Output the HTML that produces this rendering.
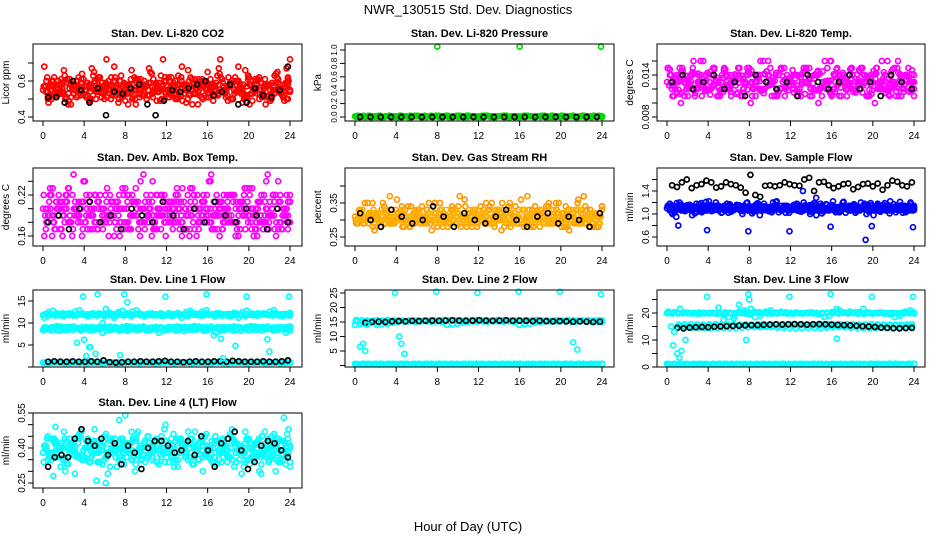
<!DOCTYPE html>
<html><head><meta charset="utf-8">
<style>
html,body{margin:0;padding:0;background:#fff;}
svg{display:block;font-family:"Liberation Sans",Arial,sans-serif;}
</style></head>
<body>
<svg id="chart" width="936" height="540" viewBox="0 0 936 540" xmlns="http://www.w3.org/2000/svg">
<rect x="0" y="0" width="936" height="540" fill="#fff"/>
<text x="468" y="14" font-size="13" text-anchor="middle">NWR_130515  Std. Dev. Diagnostics</text>
<text x="468" y="531" font-size="13" text-anchor="middle">Hour of Day (UTC)</text>
</svg>
<script>
// ---- data ----
const co2Red = [0.55,0.62,0.50,0.58,0.53,0.66,0.47,0.56,0.60,0.52,0.57,0.49,0.63,0.54,0.51,0.59,0.55,0.68,0.48,0.57,0.53,0.61,0.50,0.56,0.58,0.52,0.64,0.55,0.49,0.60,0.54,0.57,0.51,0.62,0.56,0.53,0.59,0.47,0.58,0.55,0.61,0.52,0.67,0.54,0.57,0.50,0.60,0.56,0.53,0.63,0.49,0.58,0.55,0.61,0.52,0.57,0.65,0.54,0.59,0.72];
const co2Red2 = [0.57,0.52,0.60,0.54,0.58,0.50,0.61,0.53,0.56,0.59,0.51,0.58,0.55,0.62,0.53,0.57,0.50,0.60,0.55,0.52,0.58,0.54,0.61,0.51,0.57,0.55,0.53,0.59,0.56,0.50,0.62,0.54,0.58,0.52,0.57,0.60,0.53,0.56,0.51,0.59,0.55,0.58,0.52,0.61,0.54,0.57,0.53,0.60,0.56,0.51,0.58,0.55,0.62,0.53,0.57,0.50,0.59,0.56,0.54,0.58];
const co2Black = [0.51,0.51,0.48,0.60,0.55,0.48,0.56,0.41,0.54,0.53,0.56,0.58,0.47,0.41,0.49,0.55,0.54,0.56,0.58,0.60,0.52,0.54,0.58,0.47,0.48,0.56,0.52,0.51,0.55,0.68];
const presGreen = [0.01,0.00,0.02,0.01,0.00,0.01,0.02,0.00,0.01,0.01,0.00,0.02,0.01,0.00,0.01,0.02,0.01,0.00,0.01,0.01,0.02,0.00,0.01,0.00,0.01,0.02,0.01,0.00,0.01,0.01,0.00,0.02,0.01,0.00,0.01,0.01,0.02,0.00,0.01,0.00,0.01,0.02,0.01,0.00,0.01,0.01,0.00,0.02,0.01,0.00,0.01,0.01,0.02,0.00,0.01,0.00,0.01,0.02,0.01,0.01];
const presBlack = [0.00,0.00,0.00,0.00,0.00,0.00,0.00,0.00,0.00,0.00,0.00,0.00,0.00,0.00,0.00,0.00,0.00,0.00,0.00,0.00,0.00,0.00,0.00,0.00];
const presOutHours = [8.0,16.0,23.9];
const presOutVals = [1.05,1.05,1.05];
const tempMag = [0.013,0.014,0.012,0.015,0.013,0.011,0.014,0.012,0.016,0.013,0.012,0.015,0.011,0.013,0.014,0.012,0.013,0.015,0.011,0.014,0.010,0.013,0.012,0.016,0.013,0.011,0.014,0.012,0.015,0.013,0.012,0.014,0.011,0.013,0.015,0.012,0.014,0.011,0.013,0.016,0.012,0.014,0.013,0.011,0.015,0.012,0.013,0.014,0.011,0.013,0.015,0.012,0.014,0.012,0.013,0.015,0.011,0.014,0.013,0.014];
const tempMag2 = [0.0125,0.0135,0.0115,0.0145,0.0128,0.0138,0.0118,0.0142,0.0125,0.0132,0.0112,0.0148,0.0122,0.0136,0.0126,0.0116,0.0141,0.0129,0.0135,0.0119,0.0146,0.0124,0.0131,0.0114,0.0139,0.0127,0.0143,0.0121,0.0133,0.0118,0.0147,0.0125,0.0137,0.0113,0.0134,0.0128,0.0144,0.0122,0.0131,0.0117,0.0141,0.0126,0.0136,0.0119,0.0148,0.0124,0.0133,0.0115,0.0139,0.0127,0.0142,0.0121,0.0135,0.0118,0.0145,0.0126,0.0132,0.0116,0.0138,0.0129];
const tempBlack = [0.013,0.014,0.012,0.013,0.014,0.012,0.013,0.011,0.014,0.013,0.012,0.013,0.011,0.014,0.013,0.012,0.013,0.014,0.012,0.013,0.011,0.014,0.013,0.012];
const boxMag = [0.20,0.18,0.22,0.17,0.21,0.19,0.23,0.16,0.20,0.18,0.24,0.19,0.17,0.21,0.20,0.18,0.22,0.16,0.19,0.23,0.20,0.17,0.21,0.18,0.25,0.19,0.16,0.22,0.20,0.18,0.21,0.17,0.23,0.19,0.20,0.16,0.22,0.18,0.21,0.19,0.24,0.17,0.20,0.18,0.22,0.19,0.16,0.21,0.20,0.18,0.23,0.17,0.19,0.21,0.18,0.22,0.20,0.17,0.19,0.21];
const boxMag2 = [0.19,0.21,0.18,0.20,0.17,0.22,0.19,0.20,0.18,0.21,0.19,0.17,0.22,0.20,0.18,0.19,0.21,0.18,0.20,0.17,0.22,0.19,0.21,0.18,0.20,0.19,0.21,0.17,0.19,0.22,0.18,0.20,0.19,0.21,0.17,0.20,0.18,0.22,0.19,0.20,0.18,0.21,0.19,0.17,0.20,0.22,0.18,0.19,0.21,0.20,0.18,0.19,0.21,0.17,0.20,0.19,0.22,0.18,0.20,0.19];
const boxBlack = [0.18,0.19,0.17,0.20,0.21,0.18,0.19,0.17,0.20,0.19,0.18,0.21,0.19,0.17,0.20,0.18,0.21,0.19,0.18,0.20,0.19,0.17,0.20,0.18];
const rhOrange = [0.31,0.33,0.29,0.35,0.30,0.32,0.28,0.34,0.31,0.29,0.36,0.30,0.33,0.28,0.32,0.31,0.34,0.29,0.30,0.35,0.32,0.28,0.31,0.33,0.29,0.37,0.30,0.32,0.28,0.31,0.34,0.29,0.33,0.30,0.31,0.27,0.32,0.35,0.30,0.29,0.33,0.31,0.28,0.34,0.30,0.32,0.29,0.31,0.35,0.30,0.28,0.33,0.31,0.29,0.32,0.34,0.30,0.28,0.31,0.33];
const rhOrange2 = [0.30,0.32,0.31,0.29,0.33,0.30,0.31,0.32,0.29,0.31,0.30,0.33,0.29,0.31,0.32,0.30,0.29,0.31,0.33,0.30,0.32,0.29,0.30,0.31,0.33,0.29,0.31,0.30,0.32,0.29,0.31,0.33,0.30,0.29,0.32,0.31,0.30,0.33,0.29,0.31,0.30,0.32,0.31,0.29,0.30,0.33,0.31,0.30,0.29,0.32,0.30,0.31,0.33,0.29,0.30,0.32,0.31,0.29,0.30,0.32];
const rhBlack = [0.32,0.30,0.28,0.33,0.31,0.29,0.30,0.34,0.31,0.28,0.32,0.30,0.29,0.31,0.33,0.30,0.28,0.31,0.32,0.29,0.31,0.30,0.28,0.32];
const flowBlue = [1.10,1.15,1.05,1.20,1.08,1.12,0.98,1.18,1.10,1.06,1.22,1.09,1.14,1.02,1.11,1.17,1.07,1.13,1.00,1.19,1.10,1.05,1.16,1.08,1.12,1.03,1.21,1.09,1.14,1.06,1.11,1.18,1.04,1.10,1.15,1.07,1.13,1.01,1.17,1.09,1.12,1.05,1.20,1.08,1.14,1.02,1.11,1.16,1.06,1.10,1.13,1.04,1.19,1.09,1.12,1.07,1.15,1.03,1.11,1.14];
const flowBlue2 = [1.12,1.08,1.14,1.06,1.10,1.16,1.09,1.13,1.05,1.11,1.15,1.07,1.12,1.09,1.14,1.06,1.11,1.08,1.13,1.10,1.07,1.15,1.09,1.12,1.06,1.11,1.14,1.08,1.10,1.13,1.07,1.12,1.09,1.15,1.06,1.11,1.08,1.13,1.10,1.14,1.07,1.12,1.09,1.11,1.06,1.14,1.08,1.10,1.13,1.07,1.12,1.09,1.15,1.06,1.11,1.08,1.13,1.10,1.07,1.12];
const flowBlueOutHours = [0.9,1.1,3.9,7.9,11.9,15.9,19.3,19.9,23.9,13.2,14.5];
const flowBlueOutVals = [0.95,0.80,0.72,0.70,0.70,0.78,0.55,0.79,0.77,1.40,1.28];
const flowBlack = [1.50,1.47,1.55,1.60,1.45,1.50,1.52,1.58,1.55,1.46,1.48,1.55,1.52,1.50,1.46,1.37,1.68,1.33,1.30,1.49,1.50,1.48,1.50,1.55,1.52,1.50,1.49,1.60,1.63,1.40,1.55,1.56,1.50,1.45,1.48,1.52,1.53,1.43,1.47,1.52,1.53,1.48,1.53,1.42,1.50,1.58,1.56,1.50,1.48,1.55];
const l1Upper = [11.8,11.6,12.0,11.7,11.9,11.6,12.1,11.8,11.7,12.0,11.9,11.8,12.2,11.7,11.9,12.0,12.3,11.2,12.5,12.8,12.2,12.0,12.1,12.2,11.9,12.1,12.2,12.0,12.1,11.9,12.2,12.0,12.1,11.9,12.0,12.2,11.9,12.1,12.6,12.9,11.9,11.5,11.8,11.7,11.9,11.6,11.8,12.0,11.7,11.9,11.8,11.7,11.9,12.0,11.8,11.7,11.9,12.0,11.8,11.9];
const l1Middle = [8.4,8.6,8.3,8.5,8.2,8.6,8.4,8.5,8.7,8.3,8.6,8.8,9.0,8.7,8.9,9.1,9.2,9.0,8.8,9.1,9.3,9.2,9.0,9.1,9.2,8.9,9.0,9.1,9.0,8.9,9.1,9.0,8.9,9.0,9.1,8.8,9.0,8.9,8.8,8.6,8.7,8.9,8.5,8.7,8.6,8.8,8.5,8.7,8.6,8.4,8.7,8.5,8.8,8.6,8.7,8.3,8.4,8.6,7.8,8.2];
const l1Bottom = [1.0,0.9,1.1,1.0,0.9,1.0,1.1,0.9,1.0,1.0,1.1,0.9,1.0,1.0,0.9,1.1,1.0,0.9,1.0,1.1,1.0,0.9,1.0,1.0,1.1,0.9,1.0,1.0,0.9,1.1,1.0,0.9,1.0,1.1,1.0,0.9,1.0,1.0,1.1,0.9,1.0,1.0,0.9,1.1,1.0,0.9,1.0,1.0];
const l1Black = [1.2,1.3,1.2,1.2,1.3,1.2,1.2,1.3,1.2,1.5,1.1,1.0,1.1,1.2,1.2,1.3,1.2,1.2,1.3,1.4,1.2,1.2,1.1,1.2,1.3,1.2,1.2,1.3,1.3,1.2,1.4,1.3,1.2,1.2,1.2,1.3,1.2,1.2,1.3,1.5];
const l1OutHours = [3.3,3.9,4.0,4.2,4.5,4.6,5.1,5.3,5.8,6.1,7.5,7.9,8.2,11.9,15.9,16.6,17.3,17.5,18.7,19.8,21.8,22.0,23.9];
const l1OutVals = [5.5,16.0,6.2,2.5,4.5,4.5,3.0,16.5,10.0,13.2,2.7,16.5,14.7,16.0,16.5,7.2,6.4,2.0,4.8,16.0,6.3,3.5,16.0];
const l2Band = [14.0,14.2,14.4,14.8,15.0,15.2,15.3,15.2,15.4,15.5,15.3,15.4,15.6,15.5,15.4,15.6,15.5,15.7,15.6,15.5,15.4,15.6,15.5,15.7,15.6,15.5,15.4,15.6,15.5,15.4,15.6,15.5,15.3,15.4,15.5,15.3,15.4,15.2,15.3,15.4,15.2,15.3,15.1,15.2,15.3,15.1,15.2,15.0];
const l2Bottom = [0.6,0.5,0.6,0.5,0.6,0.5,0.6,0.5,0.6,0.5,0.6,0.5,0.6,0.5,0.6,0.5,0.6,0.5,0.6,0.5,0.6,0.5,0.6,0.5,0.6,0.5,0.6,0.5,0.6,0.5,0.6,0.5,0.6,0.5,0.6,0.5,0.6,0.5,0.6,0.5];
const l2Black = [14.8,15.0,15.1,15.0,15.2,15.3,15.2,15.4,15.3,15.4,15.5,15.4,15.5,15.6,15.5,15.4,15.5,15.6,15.5,15.4,15.5,15.6,15.4,15.5,15.4,15.3,15.4,15.3,15.2,15.3,15.2,15.1,15.2,15.1,15.0,15.1];
const l2OutHours = [0.5,0.8,1.0,1.2,3.9,4.3,4.5,4.8,7.9,11.9,15.9,19.9,21.2,21.6,23.9];
const l2OutVals = [6.5,7.5,5.0,14.0,25.0,10.0,7.5,4.0,25.5,25.0,25.5,25.5,8.0,5.5,24.5];
const l3Upper = [20.0,19.8,20.1,19.9,20.0,19.8,19.7,20.0,19.9,20.1,19.8,19.5,18.5,19.0,20.5,21.0,20.2,20.5,20.3,20.1,20.2,20.0,20.1,20.2,20.0,20.1,19.9,20.0,20.2,20.1,20.0,20.1,20.3,21.5,20.2,19.9,20.0,19.8,19.9,20.0,19.8,19.9,20.0,19.8,19.9,20.0,19.8,19.9,20.0];
const l3Bottom = [1.2,1.0,1.1,1.2,1.0,1.1,1.2,1.0,1.1,1.2,1.0,1.1,1.2,1.0,1.1,1.2,1.0,1.1,1.2,1.0,1.1,1.2,1.0,1.1,1.2,1.0,1.1,1.2,1.0,1.1,1.2,1.0,1.1,1.2,1.0,1.1,1.2,1.0,1.1,1.2];
const l3Black = [14.5,14.3,14.6,14.7,14.8,14.7,14.9,15.0,15.1,15.2,15.3,15.4,15.5,15.5,15.6,15.7,15.8,15.7,15.8,15.9,15.8,15.7,15.8,15.9,15.8,15.7,15.6,15.5,15.4,15.3,15.1,15.0,14.8,14.6,14.5,14.4,14.3,14.4,14.5];
const l3OutHours = [0.4,0.7,1.0,1.2,1.4,1.8,3.9,5.0,5.5,6.5,7.0,7.9,8.0,8.2,7.7,11.9,15.9,16.5,19.9,23.9,0.6];
const l3OutVals = [15.0,13.0,5.0,3.5,6.0,10.0,26.0,22.0,17.5,18.0,23.0,27.0,25.0,20.0,10.0,26.0,27.0,10.5,26.0,26.0,8.0];
const l4Cyan = [0.38,0.44,0.35,0.42,0.39,0.47,0.33,0.41,0.37,0.45,0.36,0.40,0.43,0.34,0.39,0.46,0.32,0.41,0.38,0.44,0.36,0.42,0.30,0.40,0.37,0.45,0.35,0.43,0.39,0.48,0.34,0.41,0.38,0.44,0.36,0.40,0.33,0.42,0.39,0.46,0.35,0.43,0.37,0.41,0.34,0.45,0.38,0.40,0.32,0.44,0.39,0.42,0.36,0.47,0.35,0.41,0.38,0.43,0.33,0.40];
const l4Cyan2 = [0.40,0.36,0.43,0.38,0.41,0.35,0.44,0.39,0.42,0.37,0.40,0.34,0.43,0.38,0.41,0.36,0.44,0.39,0.37,0.42,0.40,0.35,0.43,0.38,0.41,0.36,0.39,0.44,0.37,0.40,0.42,0.35,0.38,0.43,0.40,0.36,0.41,0.39,0.44,0.37,0.40,0.34,0.42,0.38,0.41,0.36,0.43,0.39,0.40,0.35,0.42,0.38,0.44,0.37,0.40,0.36,0.41,0.39,0.43,0.38];
const l4CyanOutHours = [1.0,3.1,5.2,6.1,6.3,8.0,1.2,7.4,11.9,21.2,22.6,23.4,19.3];
const l4CyanOutVals = [0.28,0.29,0.26,0.25,0.29,0.54,0.49,0.52,0.50,0.29,0.30,0.53,0.29];
const l4Black = [0.32,0.36,0.37,0.36,0.44,0.48,0.43,0.41,0.44,0.37,0.42,0.33,0.41,0.38,0.31,0.40,0.43,0.43,0.41,0.38,0.39,0.43,0.37,0.45,0.39,0.32,0.42,0.44,0.47,0.39,0.31,0.34,0.41,0.43,0.42,0.39,0.36];
const hourTicks = [0,4,8,12,16,20,24];

// ---- layout ----
const colX = [[33,302,43,290],[345,614,355,602],[657,925,667,914]];
const rowY = [[44,121],[168,246],[290,367],[413,488]];
const NS = 'http://www.w3.org/2000/svg';
const svg = document.getElementById('chart');
function mk(tag, attrs, parent){ const e=document.createElementNS(NS,tag); for(const k in attrs) e.setAttribute(k,attrs[k]); (parent||svg).appendChild(e); return e; }

// series: [values, colour, startHour, endHour, dense]
const panels = [
 {r:0,c:0,title:'Stan. Dev. Li-820 CO2',ylab:'Licor ppm',ref:[0.4,117,0.6,81],ticks:[0.4,0.5,0.6,0.7],labels:['0.4','0.6'],labelVals:[0.4,0.6],
  series:[[co2Red,'#ff0000',0,24,1],[co2Red2,'#ff0000',0.2,23.8,1],[co2Black,'#000',0.5,23.8,0]], out:[]},
 {r:0,c:1,title:'Stan. Dev. Li-820 Pressure',ylab:'kPa',ref:[0,117,1.0,50],ticks:[0,0.2,0.4,0.6,0.8,1.0],labels:['0.0','0.2','0.4','0.6','0.8','1.0'],labelVals:[0,0.2,0.4,0.6,0.8,1.0],small:true,
  series:[[presGreen,'#00dd00',0,24,1],[presBlack,'#000',0.5,23.5,0]], out:[[presOutHours,presOutVals,'#00dd00']]},
 {r:0,c:2,title:'Stan. Dev. Li-820 Temp.',ylab:'degrees C',ref:[0.008,117,0.014,75],ticks:[0.008,0.010,0.012,0.014,0.016],labels:['0.008','0.014'],labelVals:[0.008,0.014],
  series:[[tempMag,'#ff00ff',0,24,1],[tempMag2,'#ff00ff',0.2,23.8,1],[tempBlack,'#000',0.5,23.8,0]], out:[]},
 {r:1,c:0,title:'Stan. Dev. Amb. Box Temp.',ylab:'degrees C',ref:[0.16,236,0.22,195],ticks:[0.16,0.18,0.20,0.22,0.24],labels:['0.16','0.22'],labelVals:[0.16,0.22],
  series:[[boxMag,'#ff00ff',0,24,1],[boxMag2,'#ff00ff',0.2,23.8,1],[boxBlack,'#000',0.5,23.8,0]], out:[]},
 {r:1,c:1,title:'Stan. Dev. Gas Stream RH',ylab:'percent',ref:[0.25,237,0.35,203],ticks:[0.25,0.30,0.35,0.40],labels:['0.25','0.35'],labelVals:[0.25,0.35],
  series:[[rhOrange,'#ff9900',0,24,1],[rhOrange2,'#ffb000',0.2,23.8,1],[rhBlack,'#000',0.5,23.8,0]], out:[]},
 {r:1,c:2,title:'Stan. Dev. Sample Flow',ylab:'ml/min',ref:[1.0,214,1.4,191],ticks:[0.6,0.8,1.0,1.2,1.4,1.6],labels:['0.6','1.0','1.4'],labelVals:[0.6,1.0,1.4],
  series:[[flowBlue,'#0000ff',0,24,1],[flowBlue2,'#0000ff',0.2,23.8,1],[flowBlack,'#000',0.5,23.8,0]], out:[[flowBlueOutHours,flowBlueOutVals,'#0000ff']]},
 {r:2,c:0,title:'Stan. Dev. Line 1 Flow',ylab:'ml/min',ref:[5,345,15,301],ticks:[0,5,10,15],labels:['5','10','15'],labelVals:[5,10,15],
  series:[[l1Upper,'#00ffff',0,24,1],[l1Middle,'#00ffff',0,24,1],[l1Bottom,'#00ffff',0,24,1],[l1Black,'#000',0.5,23.8,0]], out:[[l1OutHours,l1OutVals,'#00ffff']]},
 {r:2,c:1,title:'Stan. Dev. Line 2 Flow',ylab:'ml/min',ref:[0,365.5,25,293],ticks:[0,5,10,15,20,25],labels:['5','10','15','20','25'],labelVals:[5,10,15,20,25],
  series:[[l2Band,'#00ffff',0,24,1],[l2Bottom,'#00ffff',0,24,1],[l2Black,'#000',1.0,23.8,0]], out:[[l2OutHours,l2OutVals,'#00ffff']]},
 {r:2,c:2,title:'Stan. Dev. Line 3 Flow',ylab:'ml/min',ref:[0,367,20,313],ticks:[0,5,10,15,20,25],labels:['0','10','20'],labelVals:[0,10,20],
  series:[[l3Upper,'#00ffff',0,24,1],[l3Black,'#00ffff',1.0,23.8,1],[l3Bottom,'#00ffff',0,24,1],[l3Black,'#000',1.0,23.8,0]], out:[[l3OutHours,l3OutVals,'#00ffff']]},
 {r:3,c:0,title:'Stan. Dev. Line 4 (LT) Flow',ylab:'ml/min',ref:[0.25,483,0.55,413],ticks:[0.25,0.30,0.35,0.40,0.45,0.50,0.55],labels:['0.25','0.40','0.55'],labelVals:[0.25,0.40,0.55],
  series:[[l4Cyan,'#00ffff',0,24,1],[l4Cyan2,'#00ffff',0.2,23.8,1],[l4Black,'#000',0.5,23.8,0]], out:[[l4CyanOutHours,l4CyanOutVals,'#00ffff']]}
];

function dot(g,x,y,col,name){
  const c = mk('circle',{cx:x.toFixed(1),cy:y.toFixed(1),r:2.5,fill:'none',stroke:col,'stroke-width':1.7},g);
  
  
}

panels.forEach((p,pi)=>{
  const [bx0,bx1,x0,x24] = colX[p.c];
  const [by0,by1] = rowY[p.r];
  const xs = h => x0 + (x24-x0)*h/24;
  const [v1,y1,v2,y2] = p.ref;
  const ys = v => y1 + (v-v1)*(y2-y1)/(v2-v1);
  const g = mk('g',{});
  
  
  const t = mk('text',{x:(bx0+bx1)/2,y:by0-7,'font-size':11,'font-weight':'bold','text-anchor':'middle'},g);
  t.textContent = p.title;
  
  
  const yl = mk('text',{x:0,y:0,'font-size':10,'text-anchor':'middle',transform:`translate(${bx0-24},${(by0+by1)/2}) rotate(-90)`},g);
  yl.textContent = p.ylab;
  
  
  const cg = mk('g',{},g);
  
  
  p.series.forEach(([arr,col,h0,h1,dense])=>{
    const n = arr.length;
    const passes = dense ? [[0,0],[0.13,17],[0.27,31],[0.07,44]] : [[0,0]];
    passes.forEach(([off,rot])=>{
      arr.forEach((_,i)=>{
        const v = arr[(i+rot)%n];
        const h = Math.min(h1, h0 + (h1-h0)*i/(n-1) + off);
        const y = ys(v);
        if (y>=by0-2 && y<=by1+2) dot(cg, xs(h), y, col, 'point');
      });
    });
  });
  p.out.forEach(([hs,vs,col])=>{
    hs.forEach((h,i)=>{ const y=ys(vs[i]); if(y>=by0-2&&y<=by1+2) dot(cg, xs(h), y, col, 'outlier-point'); });
  });
  const box = mk('rect',{x:bx0,y:by0,width:bx1-bx0,height:by1-by0,fill:'none',stroke:'#000','stroke-width':1},g);
  
  
  hourTicks.forEach(h=>{
    mk('line',{x1:xs(h),x2:xs(h),y1:by1,y2:by1+5,stroke:'#000'},g);
    const tl = mk('text',{x:xs(h),y:by1+18,'font-size':10,'text-anchor':'middle'},g);
    tl.textContent = h;
    
    
  });
  mk('line',{x1:xs(0),x2:xs(24),y1:by1,y2:by1,stroke:'#000'},g);
  p.ticks.forEach(v=>{ const y=ys(v); if(y>=by0-1&&y<=by1+1) mk('line',{x1:bx0-5,x2:bx0,y1:y,y2:y,stroke:'#000'},g); });
  p.labelVals.forEach((v,i)=>{
    const y=ys(v);
    const tl = mk('text',{x:0,y:0,'font-size':p.small?8:10,'text-anchor':'middle',transform:`translate(${bx0-8},${y}) rotate(-90)`},g);
    tl.textContent = p.labels[i];
    
    
  });
});
</script>
</body></html>
